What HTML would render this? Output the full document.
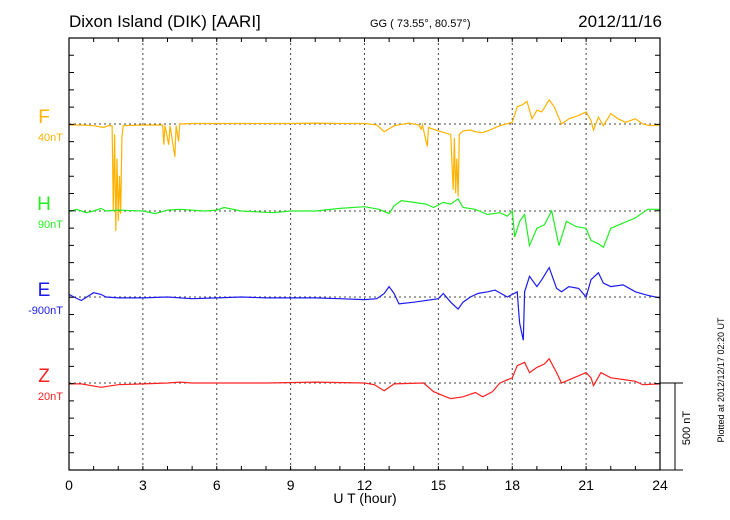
<!DOCTYPE html>
<html><head><meta charset="utf-8"><style>
body{margin:0;background:#fff;}
svg{display:block;font-family:"Liberation Sans",sans-serif;}
</style></head><body>
<svg id="chart" width="730" height="520" viewBox="0 0 730 520">
<text x="69" y="27" font-size="17">Dixon Island (DIK)  [AARI]</text>
<text x="370" y="27" font-size="11">GG ( 73.55°,  80.57°)</text>
<text x="662" y="27" font-size="17" text-anchor="end">2012/11/16</text>
<text x="365" y="503" font-size="14" text-anchor="middle">U T (hour)</text>
<text transform="translate(690,428) rotate(-90)" font-size="11" text-anchor="middle">500 nT</text>
<text transform="translate(724,380) rotate(-90)" font-size="9" text-anchor="middle">Plotted at 2012/12/17 02:20 UT</text>
<g id="grid"></g><g id="series"></g><g id="axes"></g>
</svg>
<script>
const xTicks=[0,3,6,9,12,15,18,21,24];
const comps=["F","H","E","Z"];
const compOffsets=["40nT","90nT","-900nT","20nT"];
const fT=[0,0.5,1.0,1.4,1.6,1.75,1.8,1.85,1.9,1.95,2.0,2.05,2.1,2.15,2.2,3.0,3.8,3.85,3.9,4.05,4.1,4.3,4.35,4.45,4.5,5,6,7,8,9,10,11,12,12.5,12.8,13.2,13.8,14.2,14.3,14.35,14.55,14.6,15,15.5,15.6,15.65,15.7,15.75,15.8,15.85,16,16.3,16.5,16.8,17,17.5,18,18.2,18.4,18.6,18.8,19,19.2,19.5,19.7,20,20.3,20.7,21,21.2,21.3,21.5,21.7,22,22.3,22.6,23,23.3,23.6,24];
const fV=[-6,-6,-10,-20,-10,-10,-500,-60,-620,-200,-560,-300,-520,-80,-10,-6,-6,-120,-10,-120,-10,-190,-10,-100,0,3,3,3,3,3,5,3,3,-5,-45,-10,5,-5,-30,-5,-130,-20,-40,-60,-380,-80,-400,-200,-420,-60,-40,-35,-45,-50,-40,-10,10,100,110,130,30,80,70,140,100,0,30,50,70,20,-35,40,-10,60,30,10,30,0,-10,-5];
const hT=[0,0.3,0.7,1.0,1.3,1.5,2.0,3,3.5,4,4.5,5.5,6,6.3,7,8.3,9,10,11,12,12.6,13,13.2,13.5,14,14.5,14.8,15.2,15.5,15.8,16,16.5,17,17.5,17.8,18,18.1,18.3,18.5,18.7,19,19.3,19.6,19.9,20.2,20.6,21,21.2,21.5,21.7,22,22.5,23,23.5,24];
const hV=[-5,10,-10,0,15,0,5,0,-15,5,10,0,5,20,0,-10,0,0,15,25,10,-15,30,60,50,40,20,50,40,70,20,10,-20,-10,-30,0,-150,-60,-20,-200,-100,-80,0,-200,-60,-90,-100,-170,-190,-210,-100,-70,-40,10,10];
const eT=[0,0.2,0.5,1.0,1.3,1.5,2,3,4,5,6,7,8,9,10,11,12,12.5,12.8,13,13.2,13.4,14,15,15.2,15.5,15.8,16,16.3,16.6,17,17.3,17.8,18.2,18.3,18.45,18.5,18.7,19,19.2,19.5,19.8,20,20.3,20.7,21,21.2,21.5,21.7,22,22.5,23,23.5,24];
const eV=[15,0,-20,25,15,0,-5,-5,0,-10,-5,0,-5,-5,-5,-10,-15,-10,20,60,20,-40,-30,-10,20,-30,-70,-30,0,20,30,40,0,30,-150,-250,30,120,60,100,170,50,30,60,50,0,100,140,80,60,70,30,10,-5];
const zT=[0,0.5,1.3,2,3,4,4.5,5,8,10,12,12.4,12.8,13.2,14.4,14.8,15.3,15.5,16,16.5,16.8,17.2,17.5,18,18.2,18.5,18.7,19,19.3,19.5,19.8,20,20.5,21,21.2,21.3,21.6,22,22.5,23,23.3,24];
const zV=[-5,-5,-25,-10,-5,0,5,0,0,5,0,-10,-45,-5,0,-50,-80,-90,-80,-55,-80,-50,0,30,100,120,60,90,110,140,60,0,30,60,30,-15,60,30,20,10,-10,-5];

const L=69,R=660,T=38,B=470;
const x=h=>L+(R-L)*h/24;
const tickPx=(B-T)/25;
const base=[124,211,297,383];
const y=(i,v)=>base[i]-v*tickPx/100;
const colors=["#ffb300","#22ee22","#1a1aee","#ff2020"];
const NS="http://www.w3.org/2000/svg";
function mk(tag,attrs,parent){const e=document.createElementNS(NS,tag);for(const k in attrs)e.setAttribute(k,attrs[k]);parent.appendChild(e);return e;}
const grid=document.getElementById('grid'),ser=document.getElementById('series'),ax=document.getElementById('axes');
xTicks.forEach((h,i)=>{
  if(h>0&&h<24){const g=mk('line',{x1:x(h),x2:x(h),y1:T,y2:B,stroke:'#444','stroke-width':1,'stroke-dasharray':'2,3'},grid);
  
  }
  const t=mk('text',{x:x(h),y:B+20,'font-size':14,'text-anchor':'middle'},ax);t.textContent=h;
  
  
});
base.forEach((b,i)=>{
  const g=mk('line',{x1:L,x2:R,y1:b,y2:b,stroke:'#444','stroke-width':1,'stroke-dasharray':'2,3'},grid);
  
  
  const t=mk('text',{x:44,y:b-1,'font-size':19,'text-anchor':'middle',fill:colors[i]},ax);t.textContent=comps[i];
  
  
  const o=mk('text',{x:63,y:b+17,'font-size':11,'text-anchor':'end',fill:colors[i]},ax);o.textContent=compOffsets[i];
  
  
});
const data=[[fT,fV],[hT,hV],[eT,eV],[zT,zV]];
data.forEach((d,i)=>{
  const pts=d[0].map((t,k)=>x(t).toFixed(1)+','+y(i,d[1][k]).toFixed(1)).join(' ');
  const p=mk('polyline',{points:pts,fill:'none',stroke:colors[i],'stroke-width':1.2},ser);
  
  
});
const fr=mk('rect',{x:L,y:T,width:R-L,height:B-T,fill:'none',stroke:'#000','stroke-width':1.2},ax);


let tk='';
for(let h=0;h<=24;h++){tk+=`M${x(h)},${T}v4M${x(h)},${B}v-4`;}
for(let k=1;k<25;k++){const yy=T+k*tickPx;tk+=`M${L},${yy}h5M${R},${yy}h-5`;}
const tp=mk('path',{d:tk,stroke:'#000','stroke-width':1,fill:'none'},ax);


const sb=mk('path',{d:`M${R},383H683M675,383V${B}M${R},${B}H683`,stroke:'#000','stroke-width':1,fill:'none'},ax);


</script>
</body></html>
